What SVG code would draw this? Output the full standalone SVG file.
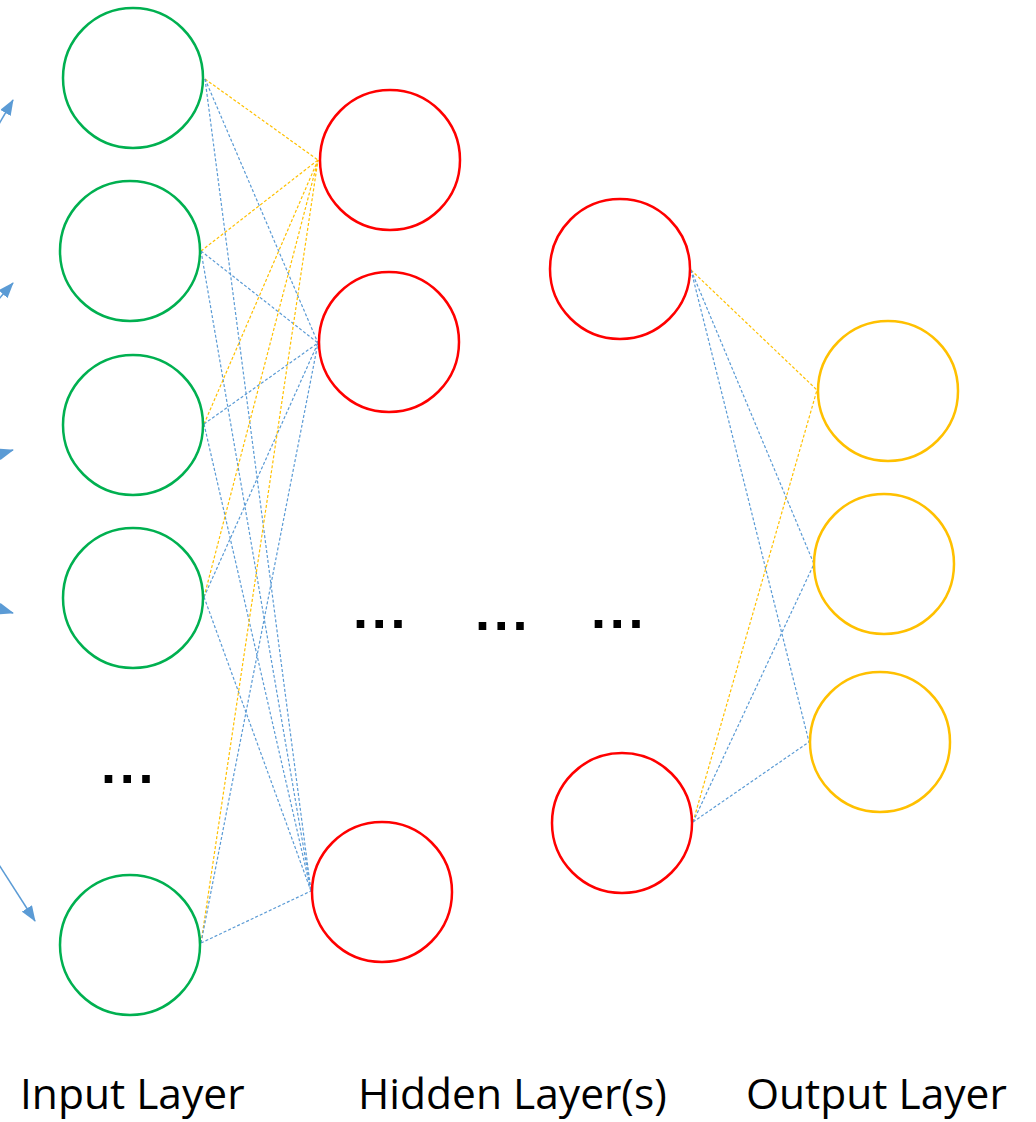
<svg xmlns="http://www.w3.org/2000/svg" width="1036" height="1122" viewBox="0 0 1036 1122">
  <style>
    .in { fill: #FFFFFF; stroke: #00B050; stroke-width: 2.5; }
    .hid { fill: #FFFFFF; stroke: #FF0000; stroke-width: 2.5; }
    .out { fill: #FFFFFF; stroke: #FFC000; stroke-width: 2.5; }
    .cb { stroke: #5B9BD5; stroke-width: 1.2; stroke-dasharray: 3 2; fill: none; }
    .cy { stroke: #FFC000; stroke-width: 1.2; stroke-dasharray: 3 2; fill: none; }
    .arr { stroke: #5B9BD5; stroke-width: 1.5; fill: none; marker-end: url(#ah); }
    .lbl { font-family: "Open Sans", "Liberation Sans", sans-serif; font-size: 42.5px; fill: #000000; }
    .dots { font-family: "Liberation Sans", Arial, sans-serif; font-size: 54px; font-weight: bold; letter-spacing: 3.8px; fill: #000000; }
  </style>
  <defs>
    <marker id="ah" viewBox="0 0 16 12" refX="15" refY="6" markerWidth="16" markerHeight="12" markerUnits="userSpaceOnUse" orient="auto">
      <path d="M0,0 L16,6 L0,12 z" fill="#5B9BD5"/>
    </marker>
  </defs>
  <rect width="1036" height="1122" fill="#FFFFFF"/>

  <g id="connectors">
    <!-- input arrows from off-canvas -->
    <line class="arr" x1="-12" y1="143" x2="13" y2="100"/>
    <line class="arr" x1="-20" y1="320" x2="13" y2="283"/>
    <line class="arr" x1="-40" y1="466" x2="13" y2="450"/>
    <line class="arr" x1="-40" y1="597" x2="13" y2="613"/>
    <line class="arr" x1="-20" y1="835" x2="35" y2="921"/>

    <!-- input -> hidden layer 1 -->
    <line class="cy" x1="205" y1="79" x2="318" y2="160"/>
    <line class="cb" x1="205" y1="79" x2="318" y2="343"/>
    <line class="cb" x1="205" y1="79" x2="311" y2="891"/>

    <line class="cy" x1="201" y1="251" x2="318" y2="160"/>
    <line class="cb" x1="201" y1="251" x2="318" y2="343"/>
    <line class="cb" x1="201" y1="251" x2="311" y2="891"/>

    <line class="cy" x1="204" y1="424" x2="318" y2="160"/>
    <line class="cb" x1="204" y1="424" x2="318" y2="343"/>
    <line class="cb" x1="204" y1="424" x2="311" y2="891"/>

    <line class="cy" x1="204" y1="597" x2="318" y2="160"/>
    <line class="cb" x1="204" y1="597" x2="318" y2="343"/>
    <line class="cb" x1="204" y1="597" x2="311" y2="891"/>

    <line class="cy" x1="201" y1="943" x2="318" y2="160"/>
    <line class="cb" x1="201" y1="943" x2="318" y2="343"/>
    <line class="cb" x1="201" y1="943" x2="311" y2="891"/>

    <!-- hidden layer 2 -> output -->
    <line class="cy" x1="691" y1="270" x2="817" y2="390"/>
    <line class="cb" x1="691" y1="270" x2="814" y2="564"/>
    <line class="cb" x1="691" y1="270" x2="809" y2="742"/>

    <line class="cy" x1="693" y1="822" x2="817" y2="390"/>
    <line class="cb" x1="693" y1="822" x2="814" y2="564"/>
    <line class="cb" x1="693" y1="822" x2="809" y2="742"/>
  </g>

  <g id="input-1"><circle class="in" cx="133" cy="78" r="70"/></g>
  <g id="input-2"><circle class="in" cx="130" cy="251" r="70"/></g>
  <g id="input-3"><circle class="in" cx="133" cy="425" r="70"/></g>
  <g id="input-4"><circle class="in" cx="133" cy="598" r="70"/></g>
  <g id="input-5"><circle class="in" cx="130" cy="945" r="70"/></g>

  <g id="hidden1-1"><circle class="hid" cx="390" cy="160" r="70"/></g>
  <g id="hidden1-2"><circle class="hid" cx="389" cy="342" r="70"/></g>
  <g id="hidden1-3"><circle class="hid" cx="382" cy="892" r="70"/></g>

  <g id="hidden2-1"><circle class="hid" cx="620" cy="269" r="70"/></g>
  <g id="hidden2-2"><circle class="hid" cx="622" cy="823" r="70"/></g>

  <g id="output-1"><circle class="out" cx="888" cy="391" r="70"/></g>
  <g id="output-2"><circle class="out" cx="884" cy="564" r="70"/></g>
  <g id="output-3"><circle class="out" cx="880" cy="742" r="70"/></g>

  <g id="ellipses">
    <text class="dots" x="101" y="783">...</text>
    <text class="dots" x="353" y="628">...</text>
    <text class="dots" x="475" y="630">...</text>
    <text class="dots" x="591" y="628">...</text>
  </g>

  <g id="labels">
    <text class="lbl" x="20" y="1109">Input Layer</text>
    <text class="lbl" x="358" y="1109">Hidden Layer(s)</text>
    <text class="lbl" x="746" y="1109">Output Layer</text>
  </g>
</svg>
